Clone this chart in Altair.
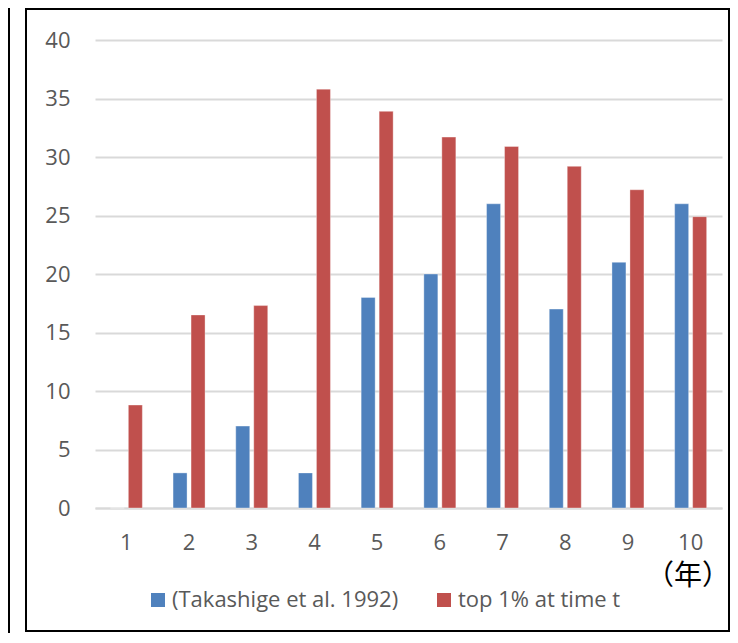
import altair as alt
import pandas as pd

years = ["1", "2", "3", "4", "5", "6", "7", "8", "9", "10"]
series_names = ["(Takashige et al. 1992)", "top 1% at time t"]
takashige = [0, 3, 7, 3, 18, 20, 26, 17, 21, 26]
top1 = [8.8, 16.5, 17.3, 35.8, 33.9, 31.7, 30.9, 29.2, 27.2, 24.9]
y_ticks = [0, 5, 10, 15, 20, 25, 30, 35, 40]
colors = ["#4F81BD", "#C0504D"]
unit_label = "（年）"

rows = []
for i, yr in enumerate(years):
    rows.append({"year": yr, "series": series_names[0], "value": takashige[i]})
    rows.append({"year": yr, "series": series_names[1], "value": top1[i]})
df = pd.DataFrame(rows)

W, H = 627, 468
FONT = "Open Sans"

bars = alt.Chart(df).mark_bar(
    stroke="white", strokeOpacity=0.35, strokeWidth=1
).encode(
    x=alt.X("year:N", sort=years,
            scale=alt.Scale(paddingInner=0, paddingOuter=0),
            axis=alt.Axis(title=None, labelAngle=0, ticks=False,
                          domainColor="#D9D9D9", domainWidth=2,
                          labelPadding=24, labelFontSize=22,
                          labelFont=FONT, labelColor="#595959")),
    xOffset=alt.XOffset("series:N", sort=series_names,
                        scale=alt.Scale(paddingInner=0.222, paddingOuter=0.853)),
    y=alt.Y("value:Q", scale=alt.Scale(domain=[0, 40], nice=False),
            axis=alt.Axis(title=None, values=y_ticks, domain=False, ticks=False,
                          gridColor="#D9D9D9", gridWidth=2,
                          labelPadding=25, labelFontSize=22,
                          labelFont=FONT, labelColor="#595959")),
    color=alt.Color("series:N", sort=series_names,
                    scale=alt.Scale(domain=series_names, range=colors),
                    legend=alt.Legend(title=None, orient="none",
                                      legendX=52, legendY=549,
                                      direction="horizontal",
                                      symbolType="square", symbolSize=196,
                                      symbolStrokeWidth=0, labelLimit=0,
                                      labelFontSize=22, labelFont=FONT,
                                      labelColor="#595959", labelOffset=3,
                                      columnPadding=34, padding=0)),
)

one = pd.DataFrame({"t": [unit_label]})

unit_text = alt.Chart(one).mark_text(
    font="Noto Sans CJK JP", fontSize=28, color="black",
    align="center", baseline="middle"
).encode(x=alt.value(593), y=alt.value(537), text="t:N")

frame = alt.Chart(one).mark_rect(
    fill=None, stroke="black", strokeWidth=2
).encode(x=alt.value(-69), x2=alt.value(634), y=alt.value(-31), y2=alt.value(591))

left_line = alt.Chart(one).mark_rule(
    stroke="black", strokeWidth=2
).encode(x=alt.value(-86), y=alt.value(-32), y2=alt.value(593))

chart = alt.layer(bars, unit_text, frame, left_line).properties(
    width=W, height=H,
    autosize=alt.AutoSizeParams(type="none"),
    padding={"left": 87, "top": 32, "right": 8, "bottom": 125},
).configure_view(stroke=None)

chart.save("out.html", embed_options={"renderer": "svg", "actions": False})
